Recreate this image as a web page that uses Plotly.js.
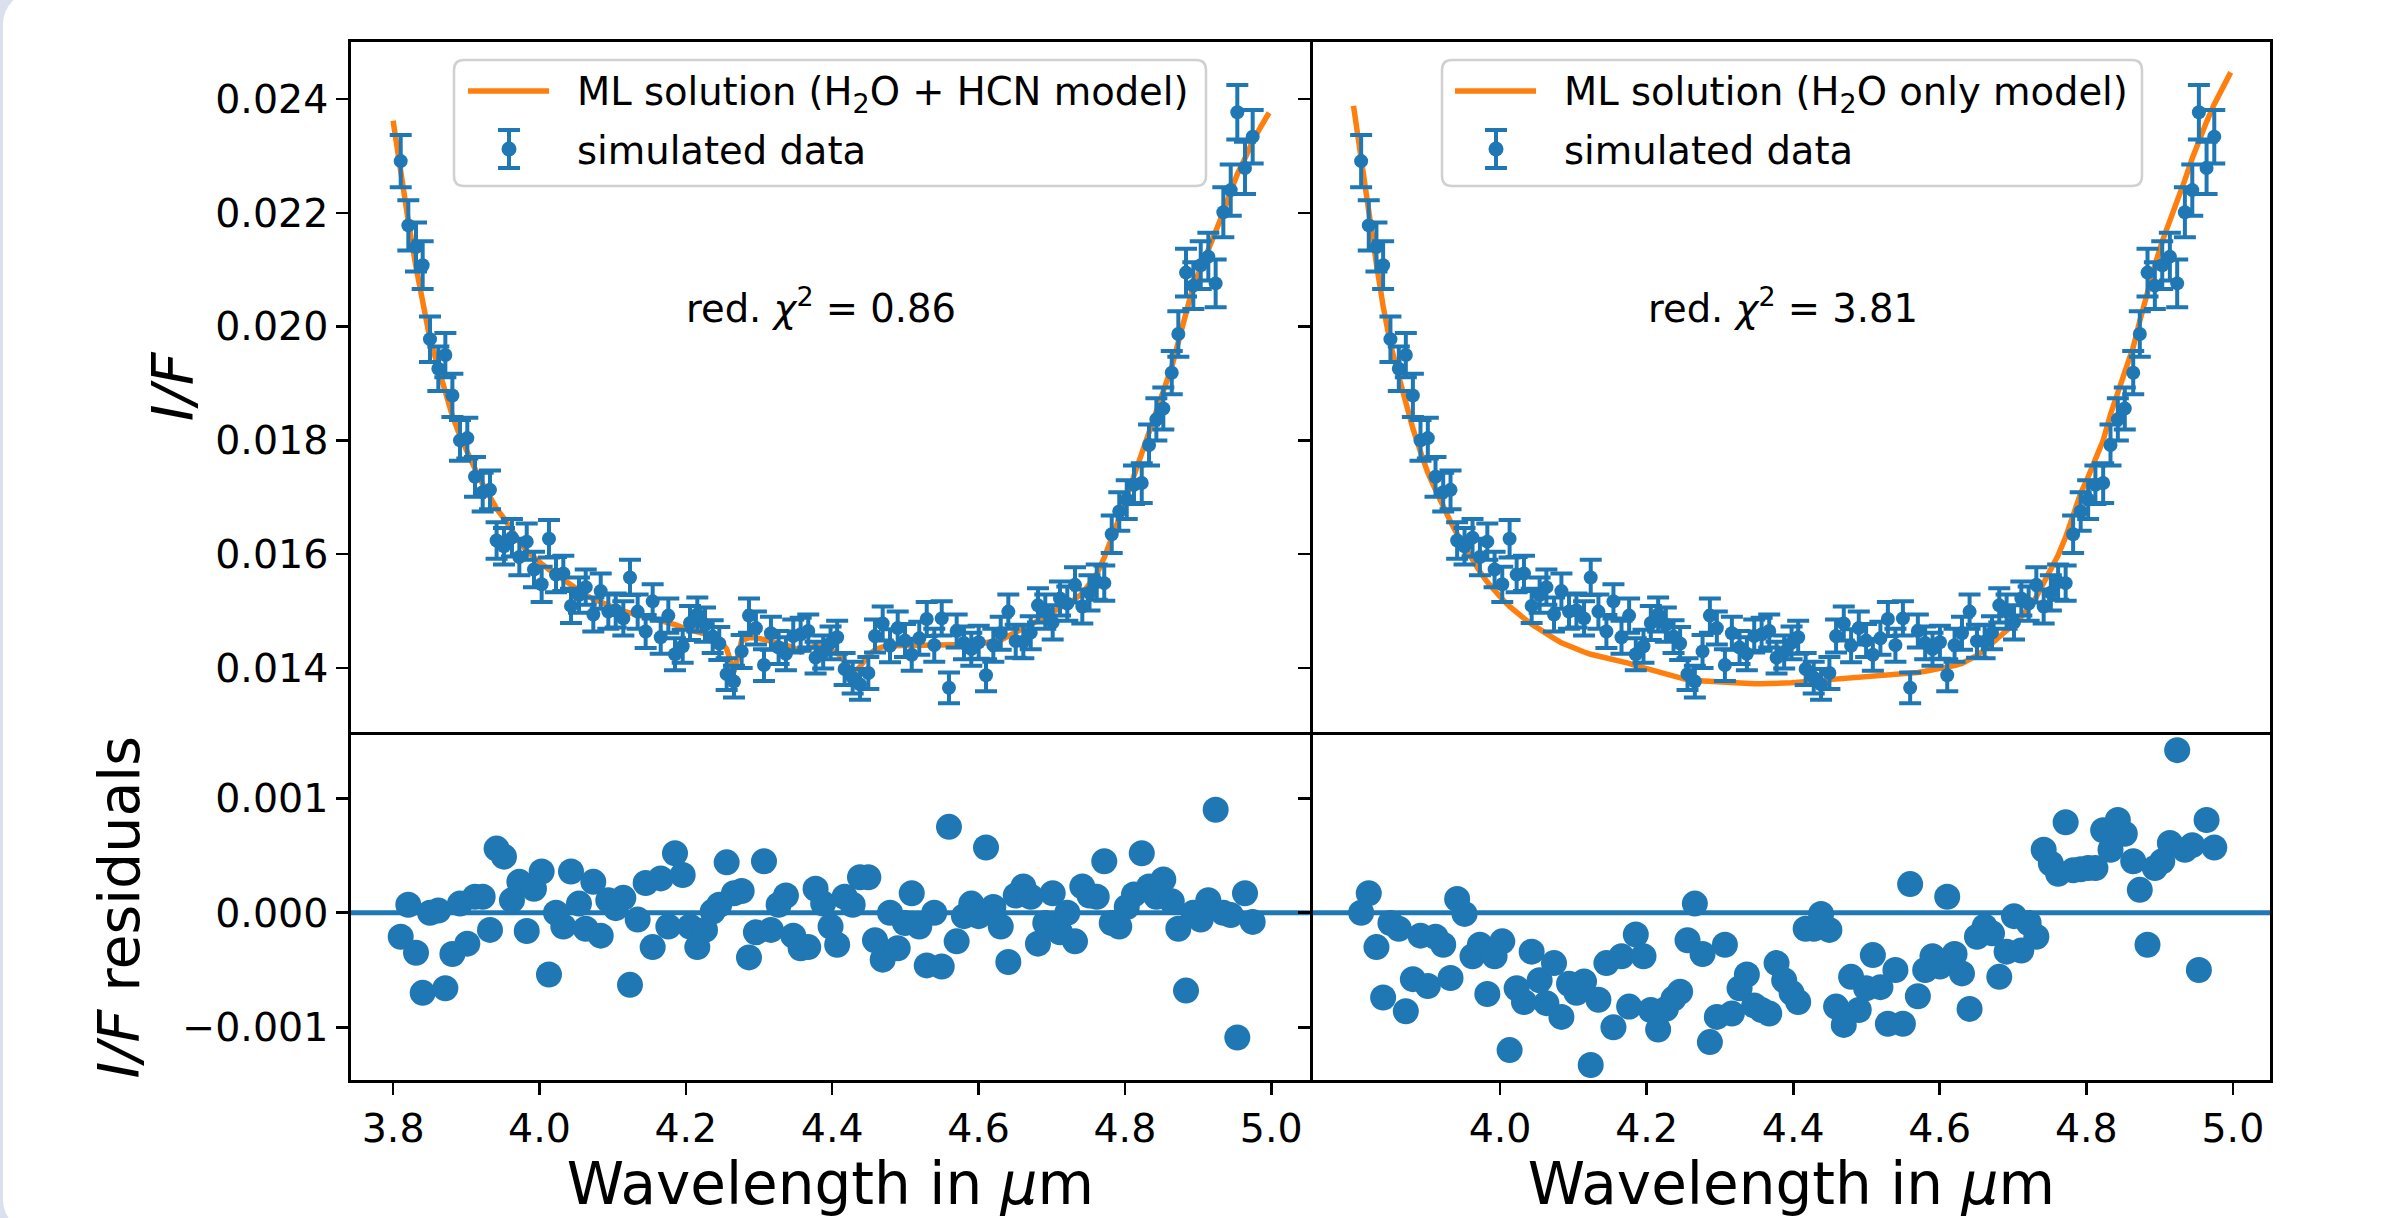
<!DOCTYPE html>
<html><head><meta charset="utf-8">
<script src="https://cdn.plot.ly/plotly-3.0.1.min.js"></script>
<style>
html,body{margin:0;padding:0;background:#dae0ee;width:2384px;height:1218px;overflow:hidden;}
#card{position:absolute;left:3px;top:-8px;width:2420px;height:1240px;background:#ffffff;border-radius:32px;}
#plot{position:absolute;left:0;top:0;width:2384px;height:1218px;}
</style></head><body><div id="card"></div><div id="plot"></div>
<script>
// ---- data ----
const wavelength = [
3.8104,3.8208,3.8313,3.8404,3.8504,3.8618,3.8714,3.8810,3.8914,3.9014,
3.9119,3.9224,3.9324,3.9414,3.9515,3.9624,3.9725,3.9826,3.9925,4.0030,
4.0130,4.0226,4.0326,4.0431,4.0540,4.0632,4.0736,4.0837,4.0941,4.1042,
4.1146,4.1237,4.1342,4.1451,4.1547,4.1657,4.1761,4.1852,4.1957,4.2057,
4.2157,4.2262,4.2367,4.2457,4.2558,4.2658,4.2763,4.2863,4.2958,4.3068,
4.3163,4.3268,4.3368,4.3468,4.3569,4.3673,4.3773,4.3877,4.3978,4.4068,
4.4170,4.4280,4.4380,4.4494,4.4585,4.4690,4.4790,4.4895,4.4995,4.5087,
4.5190,4.5292,4.5395,4.5497,4.5596,4.5701,4.5801,4.5901,4.6002,4.6102,
4.6202,4.6303,4.6407,4.6508,4.6612,4.6713,4.6812,4.6912,4.7013,4.7113,
4.7213,4.7318,4.7418,4.7516,4.7615,4.7718,4.7820,4.7923,4.8025,4.8124,
4.8230,4.8330,4.8430,4.8525,4.8640,4.8730,4.8835,4.8935,4.9036,4.9140,
4.9240,4.9345,4.9446,4.9536,4.9641,4.9746];

const simulatedData = [
0.02291,0.02178,0.02140,0.02108,0.01978,0.01926,0.01950,0.01879,0.01800,0.01804,
0.01736,0.01709,0.01713,0.01624,0.01614,0.01629,0.01595,0.01622,0.01573,0.01547,
0.01627,0.01564,0.01566,0.01509,0.01528,0.01542,0.01494,0.01535,0.01499,0.01501,
0.01487,0.01559,0.01499,0.01464,0.01517,0.01454,0.01492,0.01424,0.01438,0.01479,
0.01494,0.01476,0.01455,0.01443,0.01389,0.01376,0.01429,0.01492,0.01470,0.01405,
0.01461,0.01436,0.01425,0.01456,0.01459,0.01465,0.01418,0.01428,0.01444,0.01454,
0.01398,0.01383,0.01371,0.01391,0.01456,0.01478,0.01439,0.01470,0.01448,0.01423,
0.01452,0.01486,0.01440,0.01487,0.01365,0.01465,0.01444,0.01433,0.01445,0.01387,
0.01440,0.01461,0.01499,0.01447,0.01446,0.01462,0.01510,0.01499,0.01480,0.01522,
0.01513,0.01546,0.01508,0.01532,0.01551,0.01549,0.01635,0.01675,0.01696,0.01722,
0.01725,0.01792,0.01837,0.01856,0.01919,0.01987,0.02095,0.02072,0.02108,0.02123,
0.02076,0.02201,0.02240,0.02377,0.02279,0.02334];

const dataError = [
0.00046,0.00044,0.00043,0.00042,0.00040,0.00039,0.00039,0.00038,0.00036,0.00036,
0.00035,0.00034,0.00034,0.00032,0.00032,0.00033,0.00032,0.00032,0.00031,0.00031,
0.00033,0.00031,0.00031,0.00030,0.00031,0.00031,0.00030,0.00031,0.00030,0.00030,
0.00030,0.00031,0.00030,0.00029,0.00030,0.00029,0.00030,0.00028,0.00029,0.00030,
0.00030,0.00030,0.00029,0.00029,0.00028,0.00028,0.00029,0.00030,0.00029,0.00028,
0.00029,0.00029,0.00029,0.00029,0.00029,0.00029,0.00028,0.00029,0.00029,0.00029,
0.00028,0.00028,0.00027,0.00028,0.00029,0.00030,0.00029,0.00029,0.00029,0.00028,
0.00029,0.00030,0.00029,0.00030,0.00027,0.00029,0.00029,0.00029,0.00029,0.00028,
0.00029,0.00029,0.00030,0.00029,0.00029,0.00029,0.00030,0.00030,0.00030,0.00030,
0.00030,0.00031,0.00030,0.00031,0.00031,0.00031,0.00033,0.00034,0.00034,0.00034,
0.00035,0.00036,0.00037,0.00037,0.00038,0.00040,0.00042,0.00041,0.00042,0.00042,
0.00042,0.00044,0.00045,0.00048,0.00046,0.00047];

const modelWavelength = [3.800].concat(wavelength, [4.986, 4.997]);

const modelH2OHCN = [
0.02362,
0.02270,0.02185,0.02105,0.02038,0.01978,0.01928,0.01884,0.01843,0.01808,0.01777,
0.01750,0.01723,0.01698,0.01680,0.01663,0.01640,0.01622,0.01606,0.01594,0.01583,
0.01573,0.01564,0.01554,0.01545,0.01536,0.01528,0.01521,0.01515,0.01510,0.01505,
0.01500,0.01496,0.01493,0.01490,0.01487,0.01484,0.01480,0.01476,0.01471,0.01467,
0.01464,0.01461,0.01456,0.01450,0.01433,0.01393,0.01448,0.01453,0.01453,0.01450,
0.01446,0.01443,0.01440,0.01436,0.01428,0.01435,0.01439,0.01436,0.01432,0.01426,
0.01412,0.01390,0.01402,0.01422,0.01432,0.01437,0.01439,0.01439,0.01439,0.01440,
0.01440,0.01440,0.01440,0.01440,0.01440,0.01440,0.01441,0.01441,0.01442,0.01444,
0.01445,0.01449,0.01456,0.01462,0.01469,0.01476,0.01483,0.01490,0.01497,0.01505,
0.01513,0.01521,0.01531,0.01547,0.01565,0.01594,0.01626,0.01663,0.01701,0.01738,
0.01777,0.01815,0.01851,0.01885,0.01929,0.01973,0.02027,0.02072,0.02102,0.02134,
0.02166,0.02201,0.02238,0.02268,0.02296,0.02326,
0.02352,0.02376];

const modelH2O = [
0.02388,
0.02291,0.02196,0.02110,0.02036,0.01969,0.01912,0.01864,0.01821,0.01780,0.01743,
0.01713,0.01683,0.01657,0.01635,0.01613,0.01591,0.01569,0.01551,0.01535,0.01521,
0.01508,0.01497,0.01487,0.01477,0.01469,0.01461,0.01452,0.01444,0.01438,0.01433,
0.01428,0.01424,0.01421,0.01418,0.01415,0.01412,0.01408,0.01404,0.01400,0.01396,
0.01392,0.01389,0.01385,0.01381,0.01379,0.01378,0.01377,0.01376,0.01375,0.01374,
0.01373,0.01372,0.01372,0.01372,0.01372,0.01372,0.01372,0.01373,0.01374,0.01375,
0.01376,0.01376,0.01377,0.01378,0.01379,0.01381,0.01383,0.01384,0.01385,0.01386,
0.01387,0.01388,0.01389,0.01390,0.01391,0.01392,0.01394,0.01396,0.01398,0.01401,
0.01404,0.01408,0.01414,0.01422,0.01432,0.01443,0.01454,0.01465,0.01477,0.01490,
0.01505,0.01525,0.01548,0.01572,0.01598,0.01630,0.01668,0.01707,0.01736,0.01765,
0.01800,0.01846,0.01886,0.01925,0.01964,0.02010,0.02062,0.02108,0.02150,0.02185,
0.02220,0.02258,0.02296,0.02328,0.02360,0.02391,
0.02420,0.02447];

const residualH2OHCN = [
-0.00021,0.00007,-0.00035,-0.00070,0.00000,0.00002,-0.00066,-0.00036,0.00008,-0.00027,
0.00014,0.00014,-0.00015,0.00056,0.00049,0.00011,0.00027,-0.00016,0.00021,0.00036,
-0.00054,0.00000,-0.00012,0.00036,0.00008,-0.00014,0.00027,-0.00020,0.00011,0.00004,
0.00013,-0.00063,-0.00006,0.00026,-0.00030,0.00030,-0.00012,0.00052,0.00033,-0.00012,
-0.00030,-0.00015,0.00001,0.00007,0.00044,0.00017,0.00019,-0.00039,-0.00017,0.00045,
-0.00015,0.00007,0.00015,-0.00020,-0.00031,-0.00030,0.00021,0.00008,-0.00012,-0.00028,
0.00014,0.00007,0.00031,0.00031,-0.00024,-0.00041,0.00000,-0.00031,-0.00009,0.00017,
-0.00012,-0.00046,0.00000,-0.00047,0.00075,-0.00025,-0.00003,0.00008,-0.00003,0.00057,
0.00005,-0.00012,-0.00043,0.00015,0.00023,0.00014,-0.00027,-0.00009,0.00017,-0.00017,
0.00000,-0.00025,0.00023,0.00015,0.00014,0.00045,-0.00009,-0.00012,0.00005,0.00016,
0.00052,0.00023,0.00014,0.00029,0.00010,-0.00014,-0.00068,0.00000,-0.00006,0.00011,
0.00090,0.00000,-0.00002,-0.00109,0.00017,-0.00008];

const residualH2O = [
0.00000,0.00017,-0.00030,-0.00074,-0.00009,-0.00014,-0.00086,-0.00058,-0.00020,-0.00064,
-0.00021,-0.00028,-0.00057,0.00012,-0.00001,-0.00038,-0.00028,-0.00071,-0.00038,-0.00025,
-0.00120,-0.00066,-0.00078,-0.00034,-0.00059,-0.00079,-0.00044,-0.00091,-0.00062,-0.00070,
-0.00060,-0.00133,-0.00076,-0.00044,-0.00100,-0.00038,-0.00082,-0.00019,-0.00038,-0.00085,
-0.00102,-0.00084,-0.00075,-0.00069,-0.00024,0.00008,-0.00036,-0.00113,-0.00091,-0.00028,
-0.00088,-0.00066,-0.00054,-0.00081,-0.00085,-0.00088,-0.00044,-0.00059,-0.00070,-0.00078,
-0.00014,-0.00014,-0.00001,-0.00015,-0.00082,-0.00098,-0.00056,-0.00085,-0.00066,-0.00037,
-0.00065,-0.00097,-0.00050,-0.00097,0.00025,-0.00073,-0.00050,-0.00038,-0.00047,0.00014,
-0.00036,-0.00053,-0.00084,-0.00021,-0.00012,-0.00018,-0.00056,-0.00034,-0.00003,-0.00033,
-0.00009,-0.00021,0.00055,0.00043,0.00034,0.00079,0.00037,0.00038,0.00039,0.00039,
0.00072,0.00055,0.00081,0.00069,0.00045,0.00020,-0.00028,0.00039,0.00045,0.00061,
0.00142,0.00055,0.00059,-0.00050,0.00081,0.00057];

const topTicks = [0.014,0.016,0.018,0.020,0.022,0.024];
const residTicks = [-0.001,0.000,0.001];
const xTicksLeft = [3.8,4.0,4.2,4.4,4.6,4.8,5.0];
const xTicksRight = [4.0,4.2,4.4,4.6,4.8,5.0];
const legendLabelsLeft = ['ML solution (H<sub>2</sub>O + HCN model)','simulated data'];
const legendLabelsRight = ['ML solution (H<sub>2</sub>O only model)','simulated data'];
const chiLabels = ['red. <i>χ</i><sup>2</sup> = 0.86','red. <i>χ</i><sup>2</sup> = 3.81'];

// ---- styling / layout ----
const BLUE = '#1f77b4', ORANGE = '#ff7f0e';
const FONT = 'DejaVu Sans';
const L = 351, T = 42, W = 1919, H = 1038;
const px2x = p => (p - L) / W;
const py2y = p => (T + H - p) / H;
const XL = [0, 0.49964], XRD = [0.50109, 1];
const YT = [0.33536, 1], YB = [0, 0.33266];
const RANGE_L = [3.74247, 5.05267], RANGE_R = [3.74416, 5.05065];
const RANGE_TOP = [0.012875, 0.025004], RANGE_RES = [-0.001461, 0.001555];
const LW = 2.8;

function errTrace(xa, ya) {
  return {x: wavelength, y: simulatedData, type: 'scatter', mode: 'markers', xaxis: xa, yaxis: ya,
    marker: {color: BLUE, size: 14, line: {width: 0}},
    error_y: {type: 'data', array: dataError, visible: true, color: BLUE, thickness: 4, width: 11},
    name: 'simulated data', showlegend: false, cliponaxis: false};
}
const traces = [
  {x: modelWavelength, y: modelH2OHCN, type: 'scatter', mode: 'lines', xaxis: 'x', yaxis: 'y',
   line: {color: ORANGE, width: 5.5}, name: 'ML solution (H2O + HCN model)', showlegend: false},
  errTrace('x', 'y'),
  {x: modelWavelength, y: modelH2O, type: 'scatter', mode: 'lines', xaxis: 'x2', yaxis: 'y2',
   line: {color: ORANGE, width: 5.5}, name: 'ML solution (H2O only model)', showlegend: false},
  errTrace('x2', 'y2'),
  {x: wavelength, y: residualH2OHCN, type: 'scatter', mode: 'markers', xaxis: 'x3', yaxis: 'y3',
   marker: {color: BLUE, size: 26, line: {width: 0}}, showlegend: false, name: 'residuals H2O+HCN'},
  {x: wavelength, y: residualH2O, type: 'scatter', mode: 'markers', xaxis: 'x4', yaxis: 'y4',
   marker: {color: BLUE, size: 26, line: {width: 0}}, showlegend: false, name: 'residuals H2O'}
];

const axBase = {showline: true, mirror: true, linecolor: '#000', linewidth: LW, showgrid: false,
  zeroline: false, ticks: 'outside', ticklen: 12, tickwidth: 2.6, tickcolor: '#000',
  tickfont: {family: FONT, size: 39.5, color: '#000'}};

function rrect(x0, y0, x1, y1, r) {
  const X = px2x, Y = py2y;
  return `M ${X(x0 + r)},${Y(y0)} L ${X(x1 - r)},${Y(y0)} Q ${X(x1)},${Y(y0)} ${X(x1)},${Y(y0 + r)} ` +
    `L ${X(x1)},${Y(y1 - r)} Q ${X(x1)},${Y(y1)} ${X(x1 - r)},${Y(y1)} L ${X(x0 + r)},${Y(y1)} ` +
    `Q ${X(x0)},${Y(y1)} ${X(x0)},${Y(y1 - r)} L ${X(x0)},${Y(y0 + r)} Q ${X(x0)},${Y(y0)} ${X(x0 + r)},${Y(y0)} Z`;
}
function pline(x0, y0, x1, y1, color, width) {
  return {type: 'line', xref: 'paper', yref: 'paper', x0: px2x(x0), y0: py2y(y0), x1: px2x(x1), y1: py2y(y1),
    line: {color: color, width: width}, layer: 'above'};
}
function legendShapes(bx0, bx1, by0, by1, lineX0, lineX1, lineY, ebX, ebY) {
  const s = [];
  s.push({type: 'path', xref: 'paper', yref: 'paper', path: rrect(bx0, by0, bx1, by1, 10),
    fillcolor: 'rgba(255,255,255,0.8)', line: {color: '#d0d0d0', width: 2.5}, layer: 'above'});
  s.push(pline(lineX0, lineY, lineX1, lineY, ORANGE, 5.5));
  s.push(pline(ebX, ebY - 19, ebX, ebY + 19, BLUE, 4));
  s.push(pline(ebX - 11, ebY - 19, ebX + 11, ebY - 19, BLUE, 4));
  s.push(pline(ebX - 11, ebY + 19, ebX + 11, ebY + 19, BLUE, 4));
  s.push({type: 'circle', xref: 'paper', yref: 'paper', x0: px2x(ebX - 7.5), x1: px2x(ebX + 7.5),
    y0: py2y(ebY + 7.5), y1: py2y(ebY - 7.5), fillcolor: BLUE, line: {width: 0}, layer: 'above'});
  return s;
}
function txt(text, xpx, ypx, anchor) {
  return {text: text, xref: 'paper', yref: 'paper', x: px2x(xpx), y: py2y(ypx), xanchor: anchor,
    yanchor: 'middle', showarrow: false, font: {family: FONT, size: 38.5, color: '#000'}};
}

const shapes = [
  {type: 'line', xref: 'x3 domain', yref: 'y3', x0: 0, x1: 1, y0: 0, y1: 0, line: {color: BLUE, width: 5}, layer: 'below'},
  {type: 'line', xref: 'x4 domain', yref: 'y4', x0: 0, x1: 1, y0: 0, y1: 0, line: {color: BLUE, width: 5}, layer: 'below'}
].concat(
  legendShapes(454, 1206, 60, 186, 468, 549, 91, 509, 149),
  legendShapes(1442, 2142, 60, 186, 1455, 1536, 91, 1496, 149)
);

const annotations = [
  txt(legendLabelsLeft[0], 575, 94, 'left'),
  txt(legendLabelsLeft[1], 575, 151, 'left'),
  txt(legendLabelsRight[0], 1562, 94, 'left'),
  txt(legendLabelsRight[1], 1562, 151, 'left'),
  txt(chiLabels[0], 821, 306, 'center'),
  txt(chiLabels[1], 1783, 306, 'center')
];

const titleFont = {family: FONT, size: 57, color: '#000'};
const layout = {
  width: 2384, height: 1218,
  margin: {l: L, r: 2384 - L - W, t: T, b: 1218 - T - H, pad: 0},
  paper_bgcolor: 'rgba(0,0,0,0)', plot_bgcolor: '#ffffff',
  font: {family: FONT, color: '#000'},
  showlegend: false, hovermode: false,
  xaxis: Object.assign({}, axBase, {domain: XL, anchor: 'y', range: RANGE_L, showticklabels: false, ticks: ''}),
  yaxis: Object.assign({}, axBase, {domain: YT, anchor: 'x', range: RANGE_TOP,
    tickvals: topTicks, tickformat: '.3f',
    title: {text: '<i>I/F</i>', font: titleFont, standoff: 4}}),
  xaxis2: Object.assign({}, axBase, {domain: XRD, anchor: 'y2', range: RANGE_R, showticklabels: false, ticks: ''}),
  yaxis2: Object.assign({}, axBase, {domain: YT, anchor: 'x2', range: RANGE_TOP,
    tickvals: topTicks, showticklabels: false}),
  xaxis3: Object.assign({}, axBase, {domain: XL, anchor: 'y3', range: RANGE_L,
    tickvals: xTicksLeft, tickformat: '.1f',
    title: {text: 'Wavelength in <i>μ</i>m', font: {family: FONT, size: 58, color: '#000'}, standoff: 12}}),
  yaxis3: Object.assign({}, axBase, {domain: YB, anchor: 'x3', range: RANGE_RES,
    tickvals: residTicks, tickformat: '.3f',
    title: {text: '<i>I/F</i> residuals', font: titleFont, standoff: 25}}),
  xaxis4: Object.assign({}, axBase, {domain: XRD, anchor: 'y4', range: RANGE_R,
    tickvals: xTicksRight, tickformat: '.1f',
    title: {text: 'Wavelength in <i>μ</i>m', font: {family: FONT, size: 58, color: '#000'}, standoff: 12}}),
  yaxis4: Object.assign({}, axBase, {domain: YB, anchor: 'x4', range: RANGE_RES,
    tickvals: residTicks, showticklabels: false}),
  shapes: shapes,
  annotations: annotations
};

Plotly.newPlot('plot', traces, layout, {staticPlot: true, displayModeBar: false}).then(function (gd) {
  // drop empty placeholder text nodes (untitled axes) that Plotly leaves in the SVG
  gd.querySelectorAll('text').forEach(function (t) {
    if (!t.textContent || !t.textContent.trim()) t.parentNode.removeChild(t);
  });
});
</script></body></html>
